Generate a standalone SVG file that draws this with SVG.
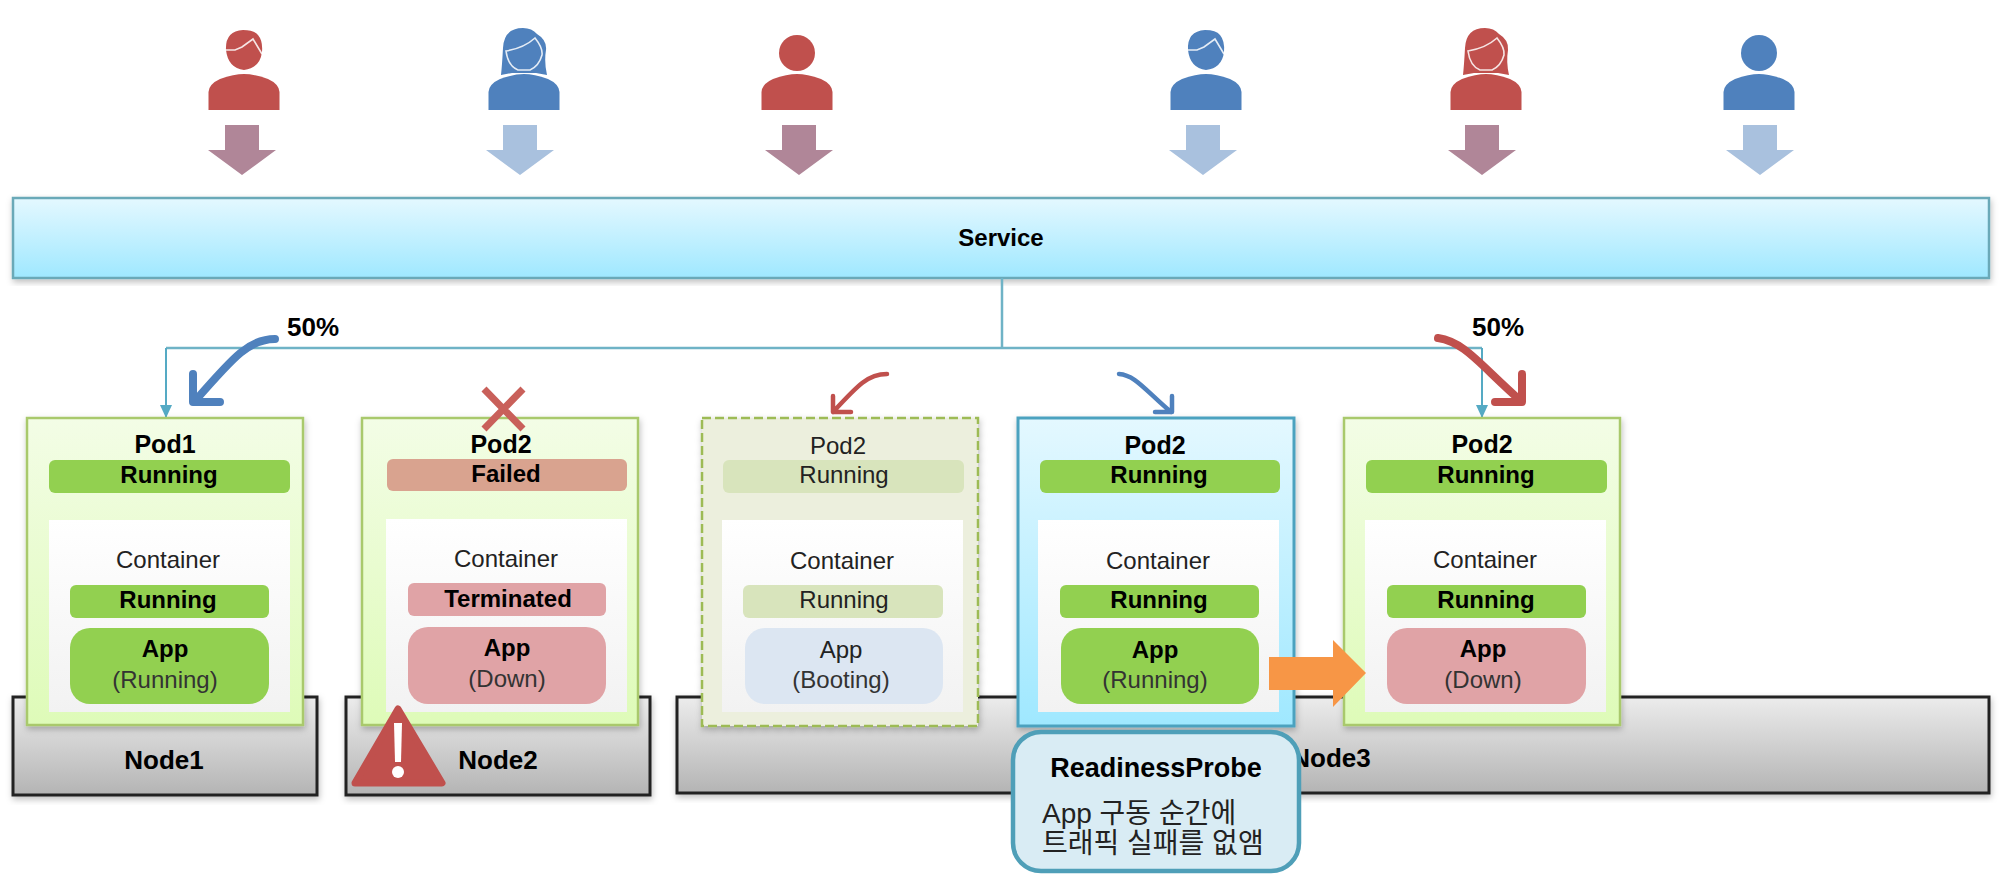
<svg xmlns="http://www.w3.org/2000/svg" width="2000" height="893" viewBox="0 0 2000 893">
  <style>
    text { font-family: "Liberation Sans", "Noto Sans CJK KR", sans-serif; fill: #222; text-anchor: middle; font-size: 24px; }
    .b { font-weight: 700; fill: #000; font-size: 24px; }
    .lbl { font-weight: 700; fill: #000; font-size: 25px; }
    .big { font-weight: 700; fill: #000; font-size: 26px; }
    .note { text-anchor: start; font-size: 28px; }
    .dim { fill: #333; }
    .bar { rx: 6px; ry: 6px; }
    .app { rx: 20px; ry: 20px; }
    .green { fill: #92d050; }
    .pale { fill: #d8e4bc; }
    .fail { fill: #d9a38f; }
    .down { fill: #e0a3a6; }
    .boot { fill: #dce6f2; }
    .inner { fill: url(#innerFill); }
    .pod { fill: url(#podFill); stroke: #a9c96c; stroke-width: 2.5; filter: url(#shade); }
    .pod-ghost { fill: #ecefdd; stroke: #9dbb55; stroke-width: 2.5; stroke-dasharray: 9 4; filter: url(#shade); }
    .pod-new { fill: url(#serviceFill); stroke: #4ca2bf; stroke-width: 3; filter: url(#shade); }
    .base { fill: url(#baseFill); stroke: #222; stroke-width: 3; filter: url(#shade); }
    .wire { fill: none; stroke: #6fb3c6; stroke-width: 2.5; }
    .drop { fill: none; stroke: #55aac4; stroke-width: 2; marker-end: url(#tip); }
    .pink { fill: #b08698; }
    .sky { fill: #a9c1de; }
    .red { fill: #c0504d; }
    .blue { fill: #4f81bd; }
    .line { fill: none; stroke: #fff; stroke-width: 1.6; stroke-opacity: 0.85; }
    .swoop { fill: none; stroke-linecap: round; stroke-linejoin: round; }
  </style>
  <defs>
    <linearGradient id="serviceFill" x1="0" y1="0" x2="0" y2="1">
      <stop offset="0" stop-color="#e4f8ff"/>
      <stop offset="1" stop-color="#9fe8ff"/>
    </linearGradient>
    <linearGradient id="podFill" x1="0" y1="0" x2="0" y2="1">
      <stop offset="0" stop-color="#f3fde6"/>
      <stop offset="1" stop-color="#defbb8"/>
    </linearGradient>
    <linearGradient id="innerFill" x1="0" y1="0" x2="0" y2="1">
      <stop offset="0" stop-color="#ffffff"/>
      <stop offset="1" stop-color="#f2f2f2"/>
    </linearGradient>
    <linearGradient id="baseFill" x1="0" y1="0" x2="0" y2="1">
      <stop offset="0" stop-color="#ececec"/>
      <stop offset="1" stop-color="#b4b4b4"/>
    </linearGradient>
    <filter id="shade" x="-5%" y="-5%" width="110%" height="115%">
      <feDropShadow dx="1" dy="3" stdDeviation="3" flood-color="#000" flood-opacity="0.25"/>
    </filter>
    <marker id="tip" markerUnits="userSpaceOnUse" markerWidth="14" markerHeight="14" refX="13" refY="7" orient="auto">
      <path d="M0,1 L13,7 L0,13 Z" fill="#55aac4"/>
    </marker>
    <path id="torso" d="M-35.500,110 V92 Q-35,84 -24,79 Q-10,74 0,74 Q10,74 24,79 Q35,84 35.500,92 V110 Z"/>
    <g id="plain">
      <ellipse cx="0" cy="53" rx="18" ry="18"/>
      <use href="#torso"/>
    </g>
    <g id="man">
      <path d="M-18,50 Q-19,31 -1,30 Q10,30 14,35 Q19,41 18,52 Q16,68 0,70 Q-16,68 -18,50 Z"/>
      <polyline class="line" points="-19,50 -9,50 -2,47 9,39 18,54"/>
      <use href="#torso"/>
    </g>
    <g id="woman">
      <path d="M-1,28 Q-20,28 -21,48 Q-22,66 -23,75 L-12,73 L12,73 L23,75 Q20,62 22,50 Q23,40 13,34 Q8,28 -1,28 Z"/>
      <path class="line" d="M-18,51 Q0,48 11,38 Q19,48 18,55 Q15,66 6,70 H-6 Q-16,66 -18,51 Z"/>
      <use href="#torso"/>
    </g>
    <path id="flow" d="M-17,125 H17 V150 H34 L0,175 L-34,150 H-17 Z"/>
  </defs>

  <rect width="2000" height="893" fill="#ffffff"/>

  <!-- users and their incoming traffic -->
  <g id="user-1" class="red"><use href="#man" x="244"/><use href="#flow" x="242" class="pink"/></g>
  <g id="user-2" class="blue"><use href="#woman" x="524"/><use href="#flow" x="520" class="sky"/></g>
  <g id="user-3" class="red"><use href="#plain" x="797"/><use href="#flow" x="799" class="pink"/></g>
  <g id="user-4" class="blue"><use href="#man" x="1206"/><use href="#flow" x="1203" class="sky"/></g>
  <g id="user-5" class="red"><use href="#woman" x="1486"/><use href="#flow" x="1482" class="pink"/></g>
  <g id="user-6" class="blue"><use href="#plain" x="1759"/><use href="#flow" x="1760" class="sky"/></g>

  <!-- service bar -->
  <g id="service">
    <rect x="13" y="198" width="1976" height="80" fill="url(#serviceFill)" stroke="#6aa9b8" stroke-width="2.500" filter="url(#shade)"/>
    <text class="b" x="1001" y="246">Service</text>
  </g>

  <!-- cluster nodes -->
  <g id="node-1">
    <rect class="base" x="13" y="697" width="304" height="98"/>
    <text class="big" x="164" y="769">Node1</text>
  </g>
  <g id="node-2">
    <rect class="base" x="346" y="697" width="304" height="98"/>
    <text class="big" x="498" y="769">Node2</text>
  </g>
  <g id="node-3">
    <rect class="base" x="677" y="697" width="1312" height="96"/>
    <text class="big" x="1331" y="767">Node3</text>
  </g>

  <!-- service routing -->
  <g id="connectors">
    <path class="wire" d="M1002,278 V348"/>
    <path class="wire" d="M166,348 H1482"/>
    <path class="drop" d="M166,348 V418"/>
    <path class="drop" d="M1482,348 V418"/>
  </g>

  <g id="pod-1" transform="translate(27 0)">
    <rect class="pod" x="0" y="418" width="276" height="307"/>
    <text class="lbl" x="138" y="453">Pod1</text>
    <rect class="bar green" x="22" y="460" width="241" height="33"/>
    <text class="b" x="142" y="483">Running</text>
    <rect class="inner" x="22" y="520" width="241" height="192"/>
    <text x="141" y="568">Container</text>
    <rect class="bar green" x="43" y="585" width="199" height="33"/>
    <text class="b" x="141" y="608">Running</text>
    <rect class="app green" x="43" y="628" width="199" height="76"/>
    <text class="b" x="138" y="657">App</text>
    <text class="dim" x="138" y="688">(Running)</text>
  </g>

  <g id="pod-2-failed" transform="translate(362 0)">
    <rect class="pod" x="0" y="418" width="276" height="307"/>
    <text class="lbl" x="139" y="453">Pod2</text>
    <rect class="bar fail" x="25" y="459" width="240" height="32"/>
    <text class="b" x="144" y="482">Failed</text>
    <rect class="inner" x="24" y="519" width="241" height="193"/>
    <text x="144" y="567">Container</text>
    <rect class="bar down" x="46" y="583" width="198" height="33"/>
    <text class="b" x="146" y="607">Terminated</text>
    <rect class="app down" x="46" y="627" width="198" height="77"/>
    <text class="b" x="145" y="656">App</text>
    <text class="dim" x="145" y="687">(Down)</text>
  </g>

  <g id="pod-2-booting" transform="translate(702 0)">
    <rect class="pod-ghost" x="0" y="418" width="276" height="308"/>
    <text x="136" y="454">Pod2</text>
    <rect class="bar pale" x="21" y="460" width="241" height="33"/>
    <text x="142" y="483">Running</text>
    <rect class="inner" x="20" y="520" width="241" height="192"/>
    <text x="140" y="569">Container</text>
    <rect class="bar pale" x="41" y="585" width="200" height="33"/>
    <text x="142" y="608">Running</text>
    <rect class="app boot" x="43" y="628" width="198" height="76"/>
    <text x="139" y="658">App</text>
    <text class="dim" x="139" y="688">(Booting)</text>
  </g>

  <g id="pod-2-ready" transform="translate(1018 0)">
    <rect class="pod-new" x="0" y="418" width="276" height="308"/>
    <text class="lbl" x="137" y="454">Pod2</text>
    <rect class="bar green" x="22" y="460" width="240" height="33"/>
    <text class="b" x="141" y="483">Running</text>
    <rect class="inner" x="20" y="520" width="241" height="192"/>
    <text x="140" y="569">Container</text>
    <rect class="bar green" x="42" y="585" width="199" height="33"/>
    <text class="b" x="141" y="608">Running</text>
    <rect class="app green" x="43" y="628" width="198" height="76"/>
    <text class="b" x="137" y="658">App</text>
    <text class="dim" x="137" y="688">(Running)</text>
  </g>

  <g id="pod-2-down" transform="translate(1344 0)">
    <rect class="pod" x="0" y="418" width="276" height="307"/>
    <text class="lbl" x="138" y="453">Pod2</text>
    <rect class="bar green" x="22" y="460" width="241" height="33"/>
    <text class="b" x="142" y="483">Running</text>
    <rect class="inner" x="21" y="520" width="241" height="192"/>
    <text x="141" y="568">Container</text>
    <rect class="bar green" x="43" y="585" width="199" height="33"/>
    <text class="b" x="142" y="608">Running</text>
    <rect class="app down" x="43" y="628" width="199" height="76"/>
    <text class="b" x="139" y="657">App</text>
    <text class="dim" x="139" y="688">(Down)</text>
  </g>

  <!-- traffic share arrows -->
  <g id="traffic-share">
    <path class="swoop" stroke="#4f81bd" stroke-width="8" d="M275,339 C250,339 235,355 195,401 M193,374 V402 H220"/>
    <text class="big" x="313" y="336">50%</text>
    <path class="swoop" stroke="#c0504d" stroke-width="8" d="M1438,338 C1465,342 1480,365 1521,401 M1522,374 V402 H1495"/>
    <text class="big" x="1498" y="336">50%</text>
  </g>

  <!-- rollover arrows -->
  <g id="rollover">
    <path class="swoop" stroke="#c0504d" stroke-width="4.500" d="M887,374 C868,374 858,385 833,412 M833,396 V412 H851"/>
    <path class="swoop" stroke="#4f81bd" stroke-width="4.500" d="M1119,374 C1135,375 1145,390 1171,412 M1172,396 V412 H1155"/>
  </g>

  <g id="failure-mark">
    <path d="M484,389 L523,429 M523,389 L484,429" fill="none" stroke="#c9605a" stroke-width="7"/>
  </g>

  <g id="warning">
    <path d="M398,709 L442,783 H355 Z" fill="#c0504d" stroke="#c0504d" stroke-width="7" stroke-linejoin="round"/>
    <path d="M394,723 H402 L401,762 H395 Z" fill="#fff"/>
    <circle cx="398" cy="772" r="6" fill="#fff"/>
  </g>

  <g id="replace-arrow">
    <path d="M1269,657 H1333 V640 L1366,673 L1333,707 V690 H1269 Z" fill="#f79646"/>
  </g>

  <g id="readiness-probe">
    <rect x="1013" y="732" width="286" height="139" rx="28" ry="28" fill="#d9ecf4" stroke="#4f9fb8" stroke-width="4.500"/>
    <text class="lbl" style="font-size:27px" x="1156" y="777">ReadinessProbe</text>
    <text class="note" x="1042" y="823">App 구동 순간에</text>
    <text class="note" x="1042" y="853">트래픽 실패를 없앰</text>
  </g>
</svg>
